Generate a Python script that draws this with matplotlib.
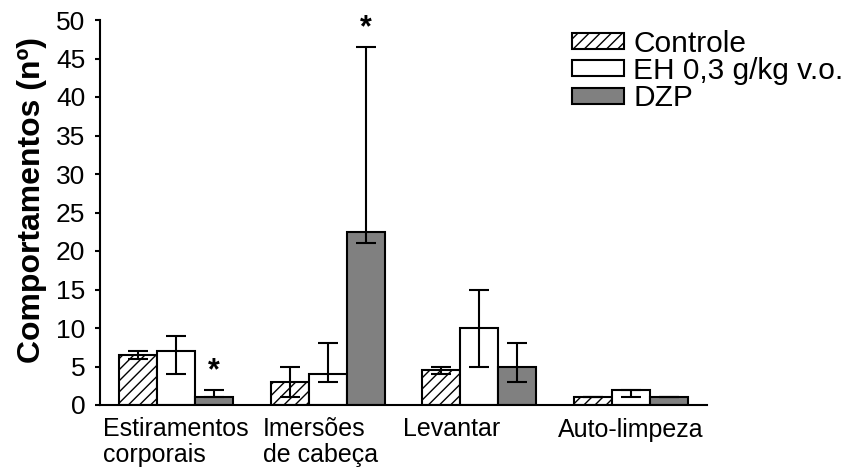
import matplotlib
matplotlib.use('Agg')
import matplotlib.pyplot as plt
import matplotlib.transforms as mtransforms
import numpy as np

plt.rcParams['font.family'] = ['Liberation Sans', 'DejaVu Sans']
plt.rcParams['hatch.linewidth'] = 1.0

# Behaviour categories and group values (n)
categories = ['Estiramentos\ncorporais', 'Imersões\nde cabeça', 'Levantar', 'Auto-limpeza']
groups = ['Controle', 'EH 0,3 g/kg v.o.', 'DZP']

controle = [6.5, 3, 4.5, 1]
controle_lo = [0.5, 2, 0.5, 0]
controle_hi = [0.5, 2, 0.5, 0]

eh = [7, 4, 10, 2]
eh_lo = [3, 1, 5, 1]
eh_hi = [2, 4, 5, 0]

dzp = [1, 22.5, 5, 1]
dzp_lo = [0, 1.5, 2, 0]
dzp_hi = [1, 24, 3, 0]

# significance marks (index of category, for the DZP group)
signif = [0, 1]

fig = plt.figure(figsize=(8.62, 4.75), dpi=100)
ax = fig.add_axes([100/862, 1 - 405/475, 607/862, 385/475])

x = np.arange(len(categories)) * 4
w = 1.0
bar_kw = dict(width=w, edgecolor='black', linewidth=1.5, zorder=2)
err_kw = dict(fmt='none', ecolor='black', elinewidth=1.5, capsize=7.5, capthick=1.5, zorder=3)

b1 = ax.bar(x - w, controle, color='white', hatch='///', label=groups[0], **bar_kw)
b2 = ax.bar(x, eh, color='white', label=groups[1], **bar_kw)
b3 = ax.bar(x + w, dzp, color='#808080', label=groups[2], **bar_kw)

ax.errorbar(x - w, controle, yerr=[controle_lo, controle_hi], **err_kw)
ax.errorbar(x, eh, yerr=[eh_lo, eh_hi], **err_kw)
ax.errorbar(x + w, dzp, yerr=[dzp_lo, dzp_hi], **err_kw)

for i in signif:
    ax.text(x[i] + w, dzp[i] + dzp_hi[i] + 2.4, '*', ha='center', va='center',
            fontsize=22, fontweight='bold')

ax.set_xlim(-2, x[-1] + 2)
ax.set_ylim(0, 50)
ax.set_yticks(np.arange(0, 51, 5))
ax.set_xticks(x)
ax.set_xticklabels(categories, fontsize=18, linespacing=1.1, multialignment='left')
ax.tick_params(axis='x', length=0, pad=9)
ax.tick_params(axis='y', length=3.6, width=1.5, labelsize=19, pad=7)

# small horizontal nudges of the category labels, as in the original
label_dx = [0, -7, -28, 0]
for lab, dx in zip(ax.get_xticklabels(), label_dx):
    lab.set_transform(lab.get_transform() + mtransforms.ScaledTranslation(dx / 100, 0, fig.dpi_scale_trans))

for s in ['top', 'right']:
    ax.spines[s].set_visible(False)
for s in ['left', 'bottom']:
    ax.spines[s].set_linewidth(1.5)

ax.set_ylabel('Comportamentos (nº)', fontsize=23, fontweight='bold')
ax.yaxis.set_label_coords(-0.087, 0.532)

fig.legend(handles=[b1, b2, b3], loc='upper left', bbox_to_anchor=(572/862, 1 - 30/475),
           frameon=False, fontsize=21.5, borderpad=0, borderaxespad=0,
           handlelength=1.75, handleheight=0.45, handletextpad=0.3, labelspacing=-0.03)

fig.savefig('out.png', dpi=100)
